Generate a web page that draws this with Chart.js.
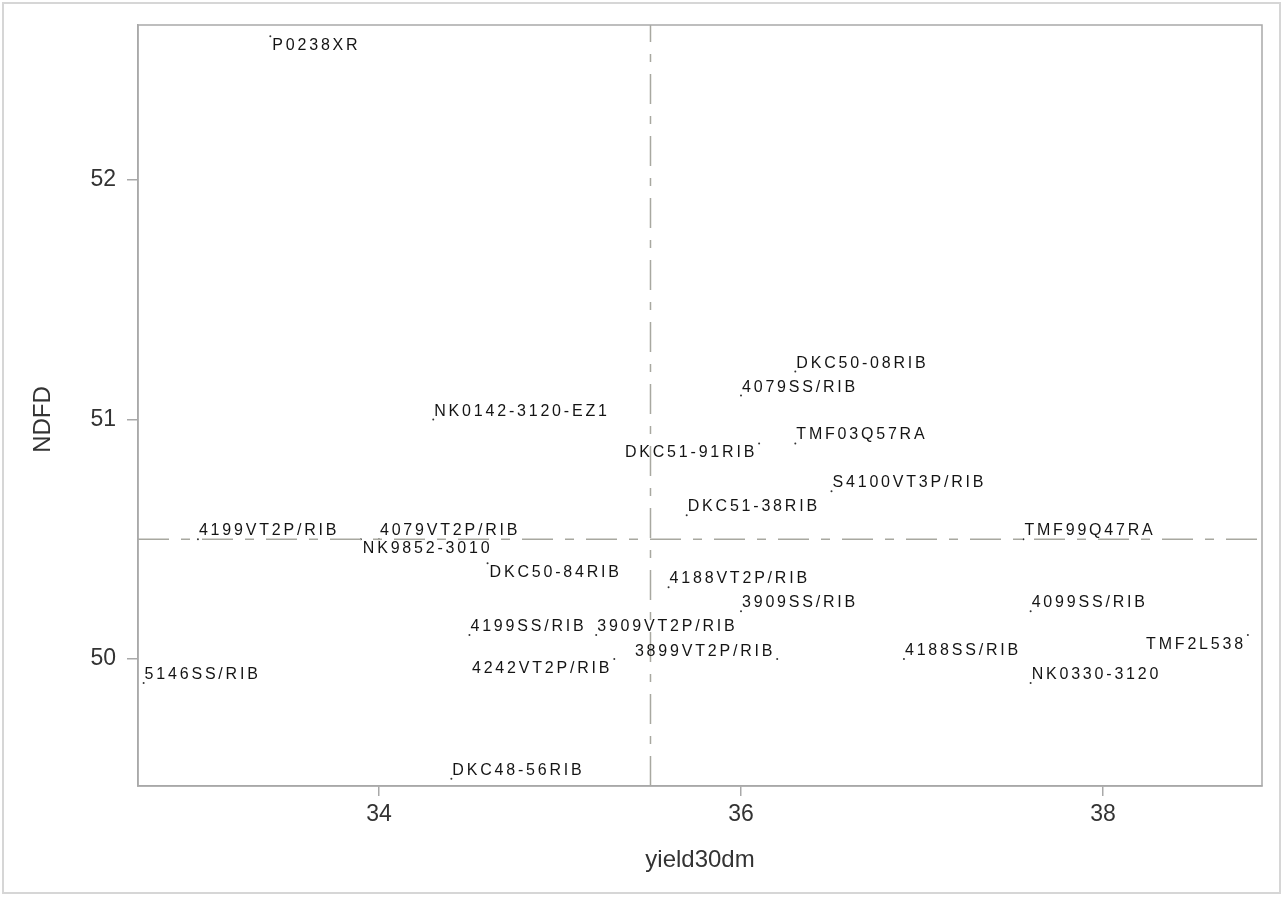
<!DOCTYPE html>
<html>
<head>
<meta charset="utf-8">
<script src="https://cdn.jsdelivr.net/npm/chart.js@4.4.1/dist/chart.umd.min.js"></script>
<style>
  html, body { margin: 0; padding: 0; background: #ffffff; }
  #wrap { width: 1283px; height: 897px; position: relative; }
</style>
</head>
<body>
<div id="wrap"><canvas id="c" width="1283" height="897"></canvas></div>
<script>
// ---- data ----
const hybrids = [
  "P0238XR", "NK0142-3120-EZ1", "4199VT2P/RIB", "4079VT2P/RIB", "NK9852-3010",
  "DKC50-84RIB", "DKC50-08RIB", "4079SS/RIB", "TMF03Q57RA", "DKC51-91RIB",
  "S4100VT3P/RIB", "DKC51-38RIB", "4188VT2P/RIB", "3909SS/RIB", "3909VT2P/RIB",
  "3899VT2P/RIB", "4242VT2P/RIB", "4188SS/RIB", "4199SS/RIB", "5146SS/RIB",
  "DKC48-56RIB", "TMF99Q47RA", "4099SS/RIB", "TMF2L538", "NK0330-3120"
];
const yield30dm = [
  33.4, 34.3, 33.0, 34.0, 33.9,
  34.6, 36.3, 36.0, 36.3, 36.1,
  36.5, 35.7, 35.6, 36.0, 35.2,
  36.2, 35.3, 36.9, 34.5, 32.7,
  34.4, 37.56, 37.6, 38.8, 37.6
];
const ndfd = [
  52.6, 51.0, 50.5, 50.5, 50.5,
  50.4, 51.2, 51.1, 50.9, 50.9,
  50.7, 50.6, 50.3, 50.2, 50.1,
  50.0, 50.0, 50.0, 50.1, 49.9,
  49.5, 50.5, 50.2, 50.1, 49.9
];
// label placement relative to the point (ne = above right, se = below right, sw = below left, nw = above left)
const labelPlacement = [
  "se", "ne", "ne", "ne", "se",
  "se", "ne", "ne", "ne", "sw",
  "ne", "ne", "ne", "ne", "ne",
  "nw", "sw", "ne", "ne", "ne",
  "ne", "ne", "ne", "sw", "ne"
];
const refYield = 35.5;
const refNdfd = 50.5;
const xTickValues = [34, 36, 38];
const yTickValues = [50, 51, 52];
const xRange = [32.669, 38.878];
const yRange = [49.470, 52.647];
const xTitle = "yield30dm";
const yTitle = "NDFD";

// ---- styles ----
const frameColor = "#a9a9a9";
const refColor = "#a8a8a0";
const textColor = "#333333";
const fontFamily = '"Liberation Sans", Arial, sans-serif';
const labelFont = '16px ' + fontFamily;

const points = hybrids.map((n, i) => ({ x: yield30dm[i], y: ndfd[i] }));

const framePlugin = {
  id: "frame",
  beforeDraw(chart) {
    const ctx = chart.ctx;
    ctx.save();
    ctx.strokeStyle = "#d6d6d6";
    ctx.lineWidth = 2;
    ctx.strokeRect(3, 3, chart.width - 6, chart.height - 7);
    ctx.restore();
  },
  afterDatasetsDraw(chart) {
    const ctx = chart.ctx;
    const a = chart.chartArea;
    ctx.save();
    ctx.strokeStyle = frameColor;
    ctx.lineWidth = 1.5;
    ctx.strokeRect(a.left, a.top, a.right - a.left, a.bottom - a.top);
    // y axis title, drawn rotated
    ctx.translate(43, (a.top + a.bottom) / 2 + 14);
    ctx.rotate(-Math.PI / 2);
    ctx.font = '24px ' + fontFamily;
    ctx.fillStyle = textColor;
    ctx.textAlign = "center";
    ctx.textBaseline = "middle";
    ctx.fillText(yTitle, 0, 0);
    ctx.restore();
  }
};

const labelPlugin = {
  id: "pointLabels",
  afterDatasetsDraw(chart) {
    const meta = chart.getDatasetMeta(2);
    const ctx = chart.ctx;
    ctx.save();
    ctx.font = labelFont;
    ctx.fillStyle = "#141414";
    if ("letterSpacing" in ctx) ctx.letterSpacing = "2.8px";
    meta.data.forEach((el, i) => {
      const p = labelPlacement[i];
      const txt = hybrids[i];
      let tx, ty;
      if (p === "ne") { ctx.textAlign = "left"; tx = el.x + 1; ty = el.y - 4; }
      else if (p === "se") { ctx.textAlign = "left"; tx = el.x + 2; ty = el.y + 14; }
      else if (p === "sw") { ctx.textAlign = "right"; tx = el.x - 2; ty = el.y + 14; }
      else { ctx.textAlign = "right"; tx = el.x - 2; ty = el.y - 3; }
      ctx.textBaseline = "alphabetic";
      ctx.fillText(txt, tx, ty);
    });
    ctx.restore();
  }
};

new Chart(document.getElementById("c"), {
  type: "scatter",
  data: {
    datasets: [
      {
        type: "line",
        data: [{ x: refYield, y: yRange[0] }, { x: refYield, y: yRange[1] }],
        borderColor: refColor,
        borderWidth: 1.5,
        borderDash: [30, 12, 8, 12],
        pointRadius: 0,
        fill: false
      },
      {
        type: "line",
        data: [{ x: xRange[0], y: refNdfd }, { x: xRange[1], y: refNdfd }],
        borderColor: refColor,
        borderWidth: 1.5,
        borderDash: [31, 12, 9, 12],
        pointRadius: 0,
        fill: false
      },
      {
        data: points,
        pointRadius: 1,
        pointBackgroundColor: "#333",
        pointBorderWidth: 0,
        showLine: false
      }
    ]
  },
  options: {
    responsive: false,
    animation: false,
    events: [],
    layout: { padding: { left: 0, right: 21, top: 25, bottom: 0 } },
    plugins: { legend: { display: false }, tooltip: { enabled: false } },
    scales: {
      x: {
        type: "linear",
        min: xRange[0],
        max: xRange[1],
        afterFit(scale) { scale.height = 111; },
        afterBuildTicks(scale) { scale.ticks = xTickValues.map(v => ({ value: v })); },
        grid: { drawOnChartArea: false, drawTicks: true, tickLength: 10, color: frameColor, lineWidth: 1.5 },
        border: { display: true, color: frameColor, width: 1.5 },
        ticks: { color: textColor, font: { size: 23, family: fontFamily }, padding: 5, maxRotation: 0 },
        title: { display: true, text: xTitle, color: textColor, font: { size: 24, family: fontFamily }, padding: { top: 4, bottom: 22 } }
      },
      y: {
        type: "linear",
        min: yRange[0],
        max: yRange[1],
        afterFit(scale) { scale.width = 138; },
        afterBuildTicks(scale) { scale.ticks = yTickValues.map(v => ({ value: v })); },
        grid: { drawOnChartArea: false, drawTicks: true, tickLength: 11, color: frameColor, lineWidth: 1.5 },
        border: { display: true, color: frameColor, width: 1.5 },
        ticks: { color: textColor, font: { size: 23, family: fontFamily }, padding: 11 },
        title: { display: false }
      }
    }
  },
  plugins: [framePlugin, labelPlugin]
});
</script>
</body>
</html>
